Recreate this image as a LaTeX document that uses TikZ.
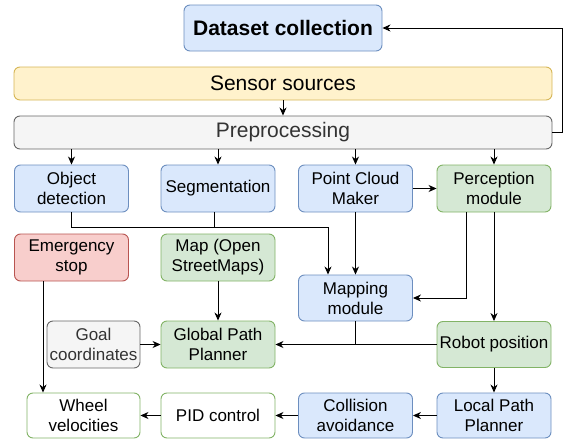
\documentclass[tikz,border=0pt]{standalone}
\usepackage{fontspec}
\setmainfont{Liberation Sans}
\usetikzlibrary{arrows.meta,calc}
\definecolor{bfill}{HTML}{DAE8FC}\definecolor{bdraw}{HTML}{6C8EBF}
\definecolor{yfill}{HTML}{FFF2CC}\definecolor{ydraw}{HTML}{D6B656}
\definecolor{gfill}{HTML}{F5F5F5}\definecolor{gdraw}{HTML}{666666}\definecolor{gtext}{HTML}{333333}
\definecolor{nfill}{HTML}{D5E8D4}\definecolor{ndraw}{HTML}{82B366}
\definecolor{rfill}{HTML}{F8CECC}\definecolor{rdraw}{HTML}{B85450}
\tikzset{
  box/.style={rounded corners=6pt, line width=0.9pt, align=center, inner sep=0pt,
     minimum width=114pt, minimum height=47pt, font=\fontsize{17}{20}\selectfont},
  bluebox/.style={box, fill=bfill, draw=bdraw},
  greenbox/.style={box, fill=nfill, draw=ndraw},
  redbox/.style={box, fill=rfill, draw=rdraw},
  graybox/.style={box, fill=gfill, draw=gdraw, text=gtext},
  whitebox/.style={box, fill=white, draw=ndraw},
  arr/.style={draw=black, line width=0.9pt, -{Stealth[length=8pt,width=7pt,inset=2.5pt]}},
  ln/.style={draw=black, line width=0.9pt}
}
\begin{document}
\begin{tikzpicture}[x=1pt,y=-1pt]
\useasboundingbox (0,0) rectangle (566,439);
% top
\node[bluebox, minimum width=198pt, minimum height=46pt, font=\fontsize{21}{24}\selectfont\bfseries] (dc) at (283,28) {Dataset collection};
\node[box, fill=yfill, draw=ydraw, minimum width=538pt, minimum height=33pt, font=\fontsize{21}{24}\selectfont] (sens) at (283,83.5) {Sensor sources};
\node[graybox, minimum width=538pt, minimum height=33pt, font=\fontsize{21}{24}\selectfont] (pre) at (283,132.5) {Preprocessing};
% row 1
\node[bluebox] (od) at (71.5,188.5) {Object\\detection};
\node[bluebox] (seg) at (218,188.5) {Segmentation};
\node[bluebox] (pcm) at (355.5,188.5) {Point Cloud\\Maker};
\node[greenbox] (perc) at (494,188.5) {Perception\\module};
% row 2
\node[redbox] (es) at (71.5,257.5) {Emergency\\stop};
\node[greenbox] (map) at (218,257.5) {Map (Open\\StreetMaps)};
\node[bluebox, minimum height=46pt] (mapping) at (355.5,298) {Mapping\\module};
% row 3
\node[graybox, minimum width=93pt] (goal) at (93.5,344.5) {Goal\\coordinates};
\node[greenbox] (gpp) at (218,344.5) {Global Path\\Planner};
\node[greenbox, minimum height=46pt] (robot) at (494,344.5) {Robot position};
% row 4
\node[whitebox, minimum width=113pt, minimum height=45pt] (wheel) at (83.5,415.5) {Wheel\\velocities};
\node[whitebox, minimum height=45pt] (pid) at (218,415.5) {PID control};
\node[bluebox, minimum height=45pt] (coll) at (355.5,415.5) {Collision\\avoidance};
\node[bluebox, minimum height=45pt] (local) at (494,415.5) {Local Path\\Planner};
% connectors
\draw[arr] (sens) -- (pre);
\draw[arr] (pre.south -| od.north) -- (od.north);
\draw[arr] (pre.south -| seg.north) -- (seg.north);
\draw[arr] (pre.south -| pcm.north) -- (pcm.north);
\draw[arr] (pre.south -| perc.north) -- (perc.north);
\draw[arr] (pre.east) -- ++(10,0) |- (dc.east);
\draw[arr] (pcm) -- (perc);
\coordinate (j1) at (328,227);
\draw[arr] (od.south) |- (j1) -- (j1 |- mapping.north);
\draw[ln] ([xshift=-4pt]seg.south) -- ([xshift=-4pt]seg.south |- j1);
\draw[arr] (pcm) -- (mapping);
\draw[arr] ([xshift=-28pt]perc.south) |- (mapping.east);
\draw[arr] (perc) -- (robot);
\draw[arr] (map) -- (gpp);
\draw[arr] (goal) -- (gpp);
\draw[arr] (robot.west) -- (gpp.east);
\draw[ln] (mapping.south) -- (mapping.south |- robot.west);
\draw[arr] ([xshift=-28.5pt]es.south) -- ([xshift=-28.5pt]es.south |- wheel.north);
\draw[arr] (robot) -- (local);
\draw[arr] (local) -- (coll);
\draw[arr] (coll) -- (pid);
\draw[arr] (pid) -- (wheel);
\end{tikzpicture}
\end{document}
